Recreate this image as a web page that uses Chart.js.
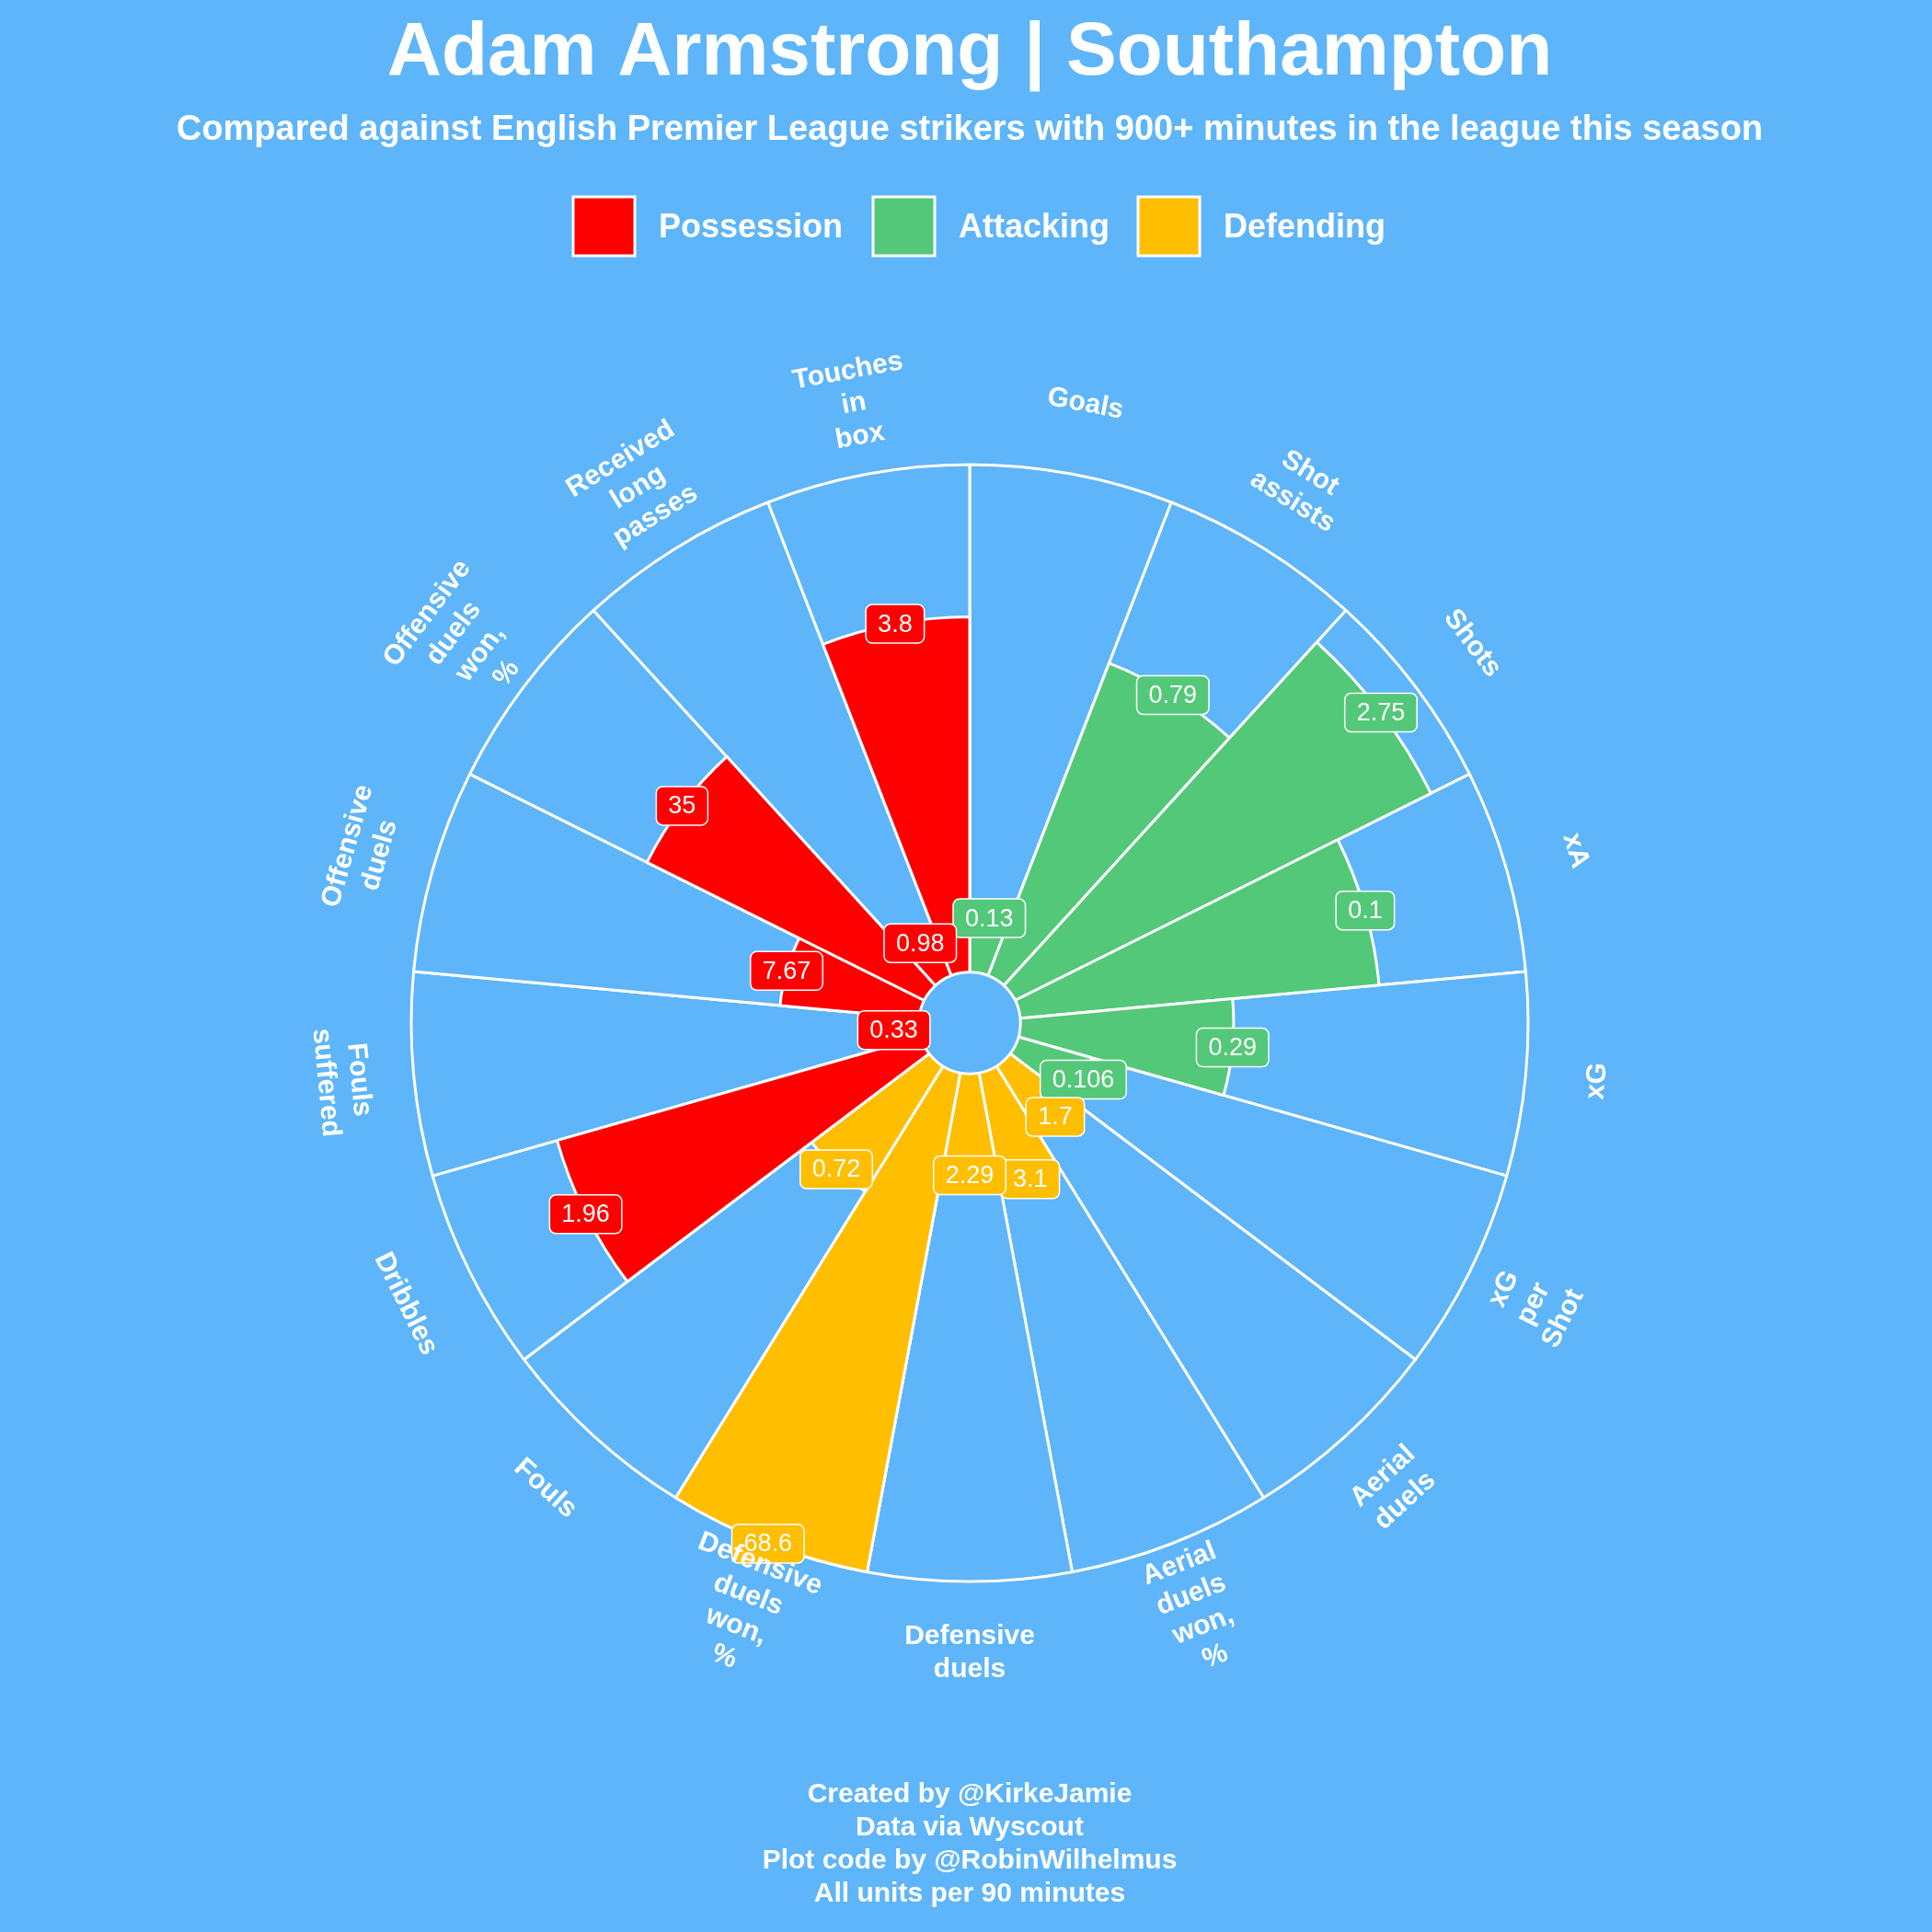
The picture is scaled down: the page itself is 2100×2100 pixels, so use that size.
<!DOCTYPE html>
<html><head><meta charset="utf-8">
<script src="https://cdn.jsdelivr.net/npm/chart.js@4"></script>
<style>html,body{margin:0;padding:0;background:#5EB5F9;}canvas{display:block;}</style>
</head><body>
<canvas id="c" width="2100" height="2100"></canvas>
<script>
const categories = [["Goals"],["Shot","assists"],["Shots"],["xA"],["xG"],["xG","per","Shot"],["Aerial","duels"],["Aerial","duels","won,","%"],["Defensive","duels"],["Defensive","duels","won,","%"],["Fouls"],["Dribbles"],["Fouls","suffered"],["Offensive","duels"],["Offensive","duels","won,","%"],["Received","long","passes"],["Touches","in","box"]];
const percentiles = [11,66,91.5,71,42,15,15,23,20,100,29,74.5,5,27.5,61,8.5,70];
const rawValues = ["0.13","0.79","2.75","0.1","0.29","0.106","1.7","3.1","2.29","68.6","0.72","1.96","0.33","7.67","35","0.98","3.8"];
const groups = ["Attacking","Attacking","Attacking","Attacking","Attacking","Attacking","Defending","Defending","Defending","Defending","Defending","Possession","Possession","Possession","Possession","Possession","Possession"];
const groupNames = ["Possession","Attacking","Defending"];
const groupColors = {Possession:"#FF0000",Attacking:"#53C878",Defending:"#FFBE00"};
const BG = "#5EB5F9";
const FONT = "'Liberation Sans', Arial, sans-serif";

const N = categories.length;
const overlay = {
  id:'overlay',
  beforeDraw(chart){
    const ctx = chart.ctx;
    ctx.save(); ctx.fillStyle = BG; ctx.fillRect(0,0,chart.width,chart.height); ctx.restore();
  },
  afterDatasetsDraw(chart){
    const ctx = chart.ctx, s = chart.scales.r;
    const cx = s.xCenter, cy = s.yCenter;
    ctx.save();
    // hole
    ctx.beginPath(); ctx.arc(cx,cy,s.getDistanceFromCenterForValue(0),0,Math.PI*2);
    ctx.fillStyle = BG; ctx.fill(); ctx.lineWidth = 3; ctx.strokeStyle = '#fff'; ctx.stroke();
    // value boxes
    ctx.font = "27px " + FONT; ctx.textAlign='center'; ctx.textBaseline='middle';
    for(let i=0;i<N;i++){
      const a = (i+0.5)*2*Math.PI/N;
      const r = s.getDistanceFromCenterForValue(percentiles[i]);
      const x = cx + r*Math.sin(a), y = cy - r*Math.cos(a);
      const w = ctx.measureText(rawValues[i]).width + 26, h = 42;
      ctx.beginPath(); ctx.roundRect(x-w/2,y-h/2,w,h,7);
      ctx.fillStyle = groupColors[groups[i]]; ctx.fill();
      ctx.lineWidth = 1.5; ctx.strokeStyle='#fff'; ctx.stroke();
      ctx.fillStyle='#fff'; ctx.fillText(rawValues[i],x,y+1);
    }
    // category labels
    ctx.font = "bold 30px " + FONT;
    const R = s.drawingArea*1.128;
    for(let i=0;i<N;i++){
      const deg = (i+0.5)*360/N, a = deg*Math.PI/180;
      const x = cx + R*Math.sin(a), y = cy - R*Math.cos(a);
      let rot = deg; if(deg>90 && deg<270) rot -= 180;
      ctx.save(); ctx.translate(x,y); ctx.rotate(rot*Math.PI/180);
      const lines = categories[i], lh = 36;
      lines.forEach((t,k)=>ctx.fillText(t,0,(k-(lines.length-1)/2)*lh));
      ctx.restore();
    }
    // titles
    ctx.fillStyle='#fff'; ctx.textAlign='center';
    ctx.font = "bold 82px " + FONT; ctx.fillText("Adam Armstrong | Southampton",1054,58);
    ctx.font = "bold 38px " + FONT; ctx.fillText("Compared against English Premier League strikers with 900+ minutes in the league this season",1054,142,1910);
    // legend
    const lx = [623,949,1237];
    ctx.textAlign='left'; ctx.font = "bold 36px " + FONT;
    groupNames.forEach((g,k)=>{
      ctx.fillStyle = groupColors[g]; ctx.fillRect(lx[k],214,67,64);
      ctx.lineWidth=3; ctx.strokeStyle='#fff'; ctx.strokeRect(lx[k],214,67,64);
      ctx.fillStyle='#fff'; ctx.fillText(g,lx[k]+93,248);
    });
    // footer
    ctx.textAlign='center'; ctx.font = "bold 30px " + FONT;
    ["Created by @KirkeJamie","Data via Wyscout","Plot code by @RobinWilhelmus","All units per 90 minutes"].forEach((t,k)=>ctx.fillText(t,1054,1951+k*36));
    ctx.restore();
  }
};

new Chart(document.getElementById('c'),{
  type:'polarArea',
  data:{
    labels: categories.map(c=>c.join(' ')),
    datasets:[
      {data: categories.map(()=>100), backgroundColor: BG, borderColor:'#fff', borderWidth:3, order:2},
      {data: percentiles, backgroundColor: groups.map(g=>groupColors[g]), borderColor:'#fff', borderWidth:3, order:1}
    ]
  },
  options:{
    responsive:false, animation:false, devicePixelRatio:1,
    layout:{padding:{left:447,right:439,top:505,bottom:381}},
    plugins:{legend:{display:false},tooltip:{enabled:false},title:{display:false}},
    scales:{r:{min:-10,max:100,ticks:{display:false},grid:{display:false},angleLines:{display:false},pointLabels:{display:false}}}
  },
  plugins:[overlay]
});
</script>
</body></html>
